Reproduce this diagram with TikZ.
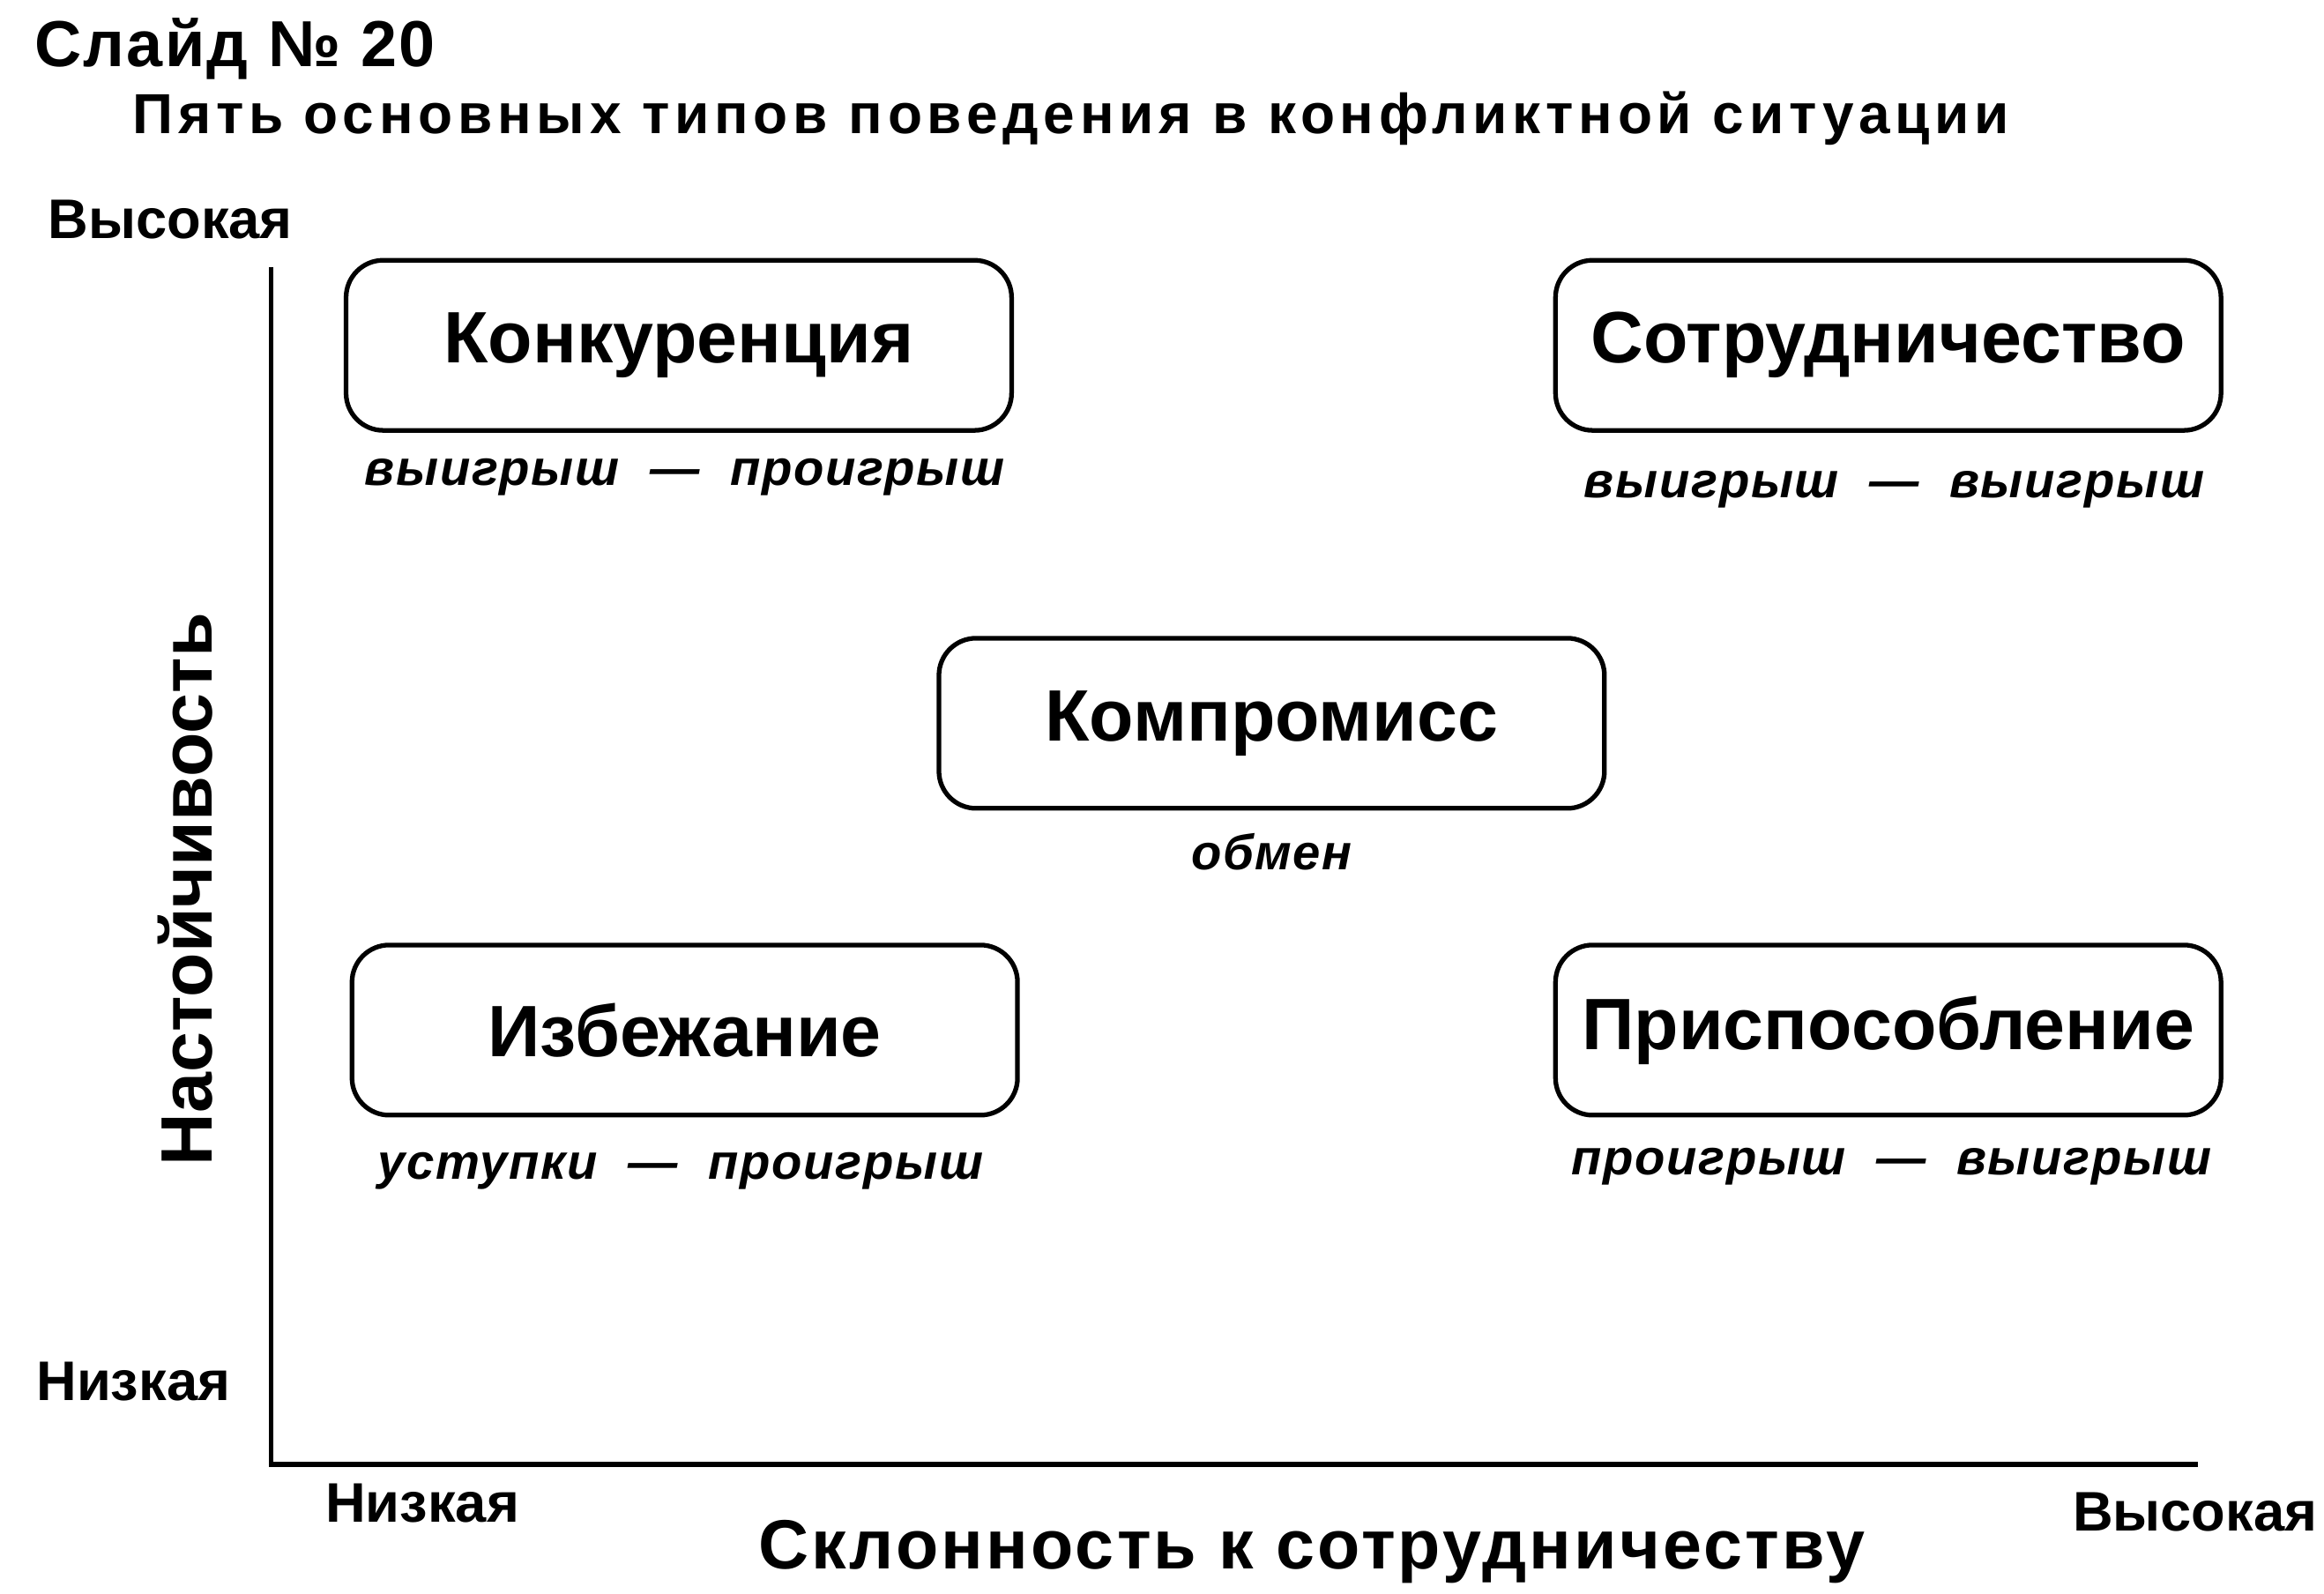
\documentclass[tikz,border=0pt]{standalone}
\usepackage{fontspec}
\setmainfont{Liberation Sans}
\newfontfamily\widefont[LetterSpace=9]{Liberation Sans}
\newfontfamily\midfont[LetterSpace=4]{Liberation Sans}
\newfontfamily\slightfont[LetterSpace=3]{Liberation Sans}
\usetikzlibrary{positioning}
\begin{document}
\begin{tikzpicture}[x=0.01681cm,y=-0.01681cm,
  typebox/.style={draw, line width=1.5pt, rounded corners=12pt, minimum width=7.55cm,
    minimum height=1.93cm, font=\fontsize{23.5}{26}\selectfont\bfseries},
  outcome/.style={font=\slightfont\fontsize{16}{18}\selectfont\bfseries\itshape},
  level/.style={font=\fontsize{18}{20}\selectfont\bfseries},
  axis/.style={line width=1.5pt}]
\useasboundingbox (0,0) rectangle (1568,1075);
% headings
\node[anchor=west, font=\slightfont\fontsize{21}{24}\selectfont\bfseries] (slide) at (16,33) {Слайд № 20};
\node[anchor=west, font=\widefont\fontsize{18.2}{21}\selectfont\bfseries] (title) at (82,80)
  {Пять основных типов поведения в конфликтной ситуации};
% axes
\coordinate (top) at (183,180);
\coordinate (origin) at (183,988);
\coordinate (right) at (1483,988);
\draw[axis] (top) -- (origin) -- (right);
\node[level] (hiy) at (115,148) {Высокая};
\node[level] (loy) at (90,932) {Низкая};
\node[level] (lox) at (285,1014) {Низкая};
\node[level] (hix) at (1481,1020) {Высокая};
\node[rotate=90, font=\fontsize{23.5}{26}\selectfont\bfseries] (ylab) at (125,600) {Настойчивость};
\node[font=\midfont\fontsize{22.5}{26}\selectfont\bfseries] (xlab) at (885,1047) {Склонность к сотрудничеству};
% five types
\node[typebox] (comp) at (458,233) {Конкуренция};
\node[typebox] (coop) at (1274,233) {Сотрудничество};
\node[typebox] (mid) at (858,488) {Компромисс};
\node[typebox] (avoid) at (462,695) {Избежание};
\node[typebox] (acc) at (1274,695) {Приспособление};
\node[outcome] (o1) at (462,322) {выигрыш \ — \ проигрыш};
\node[outcome] (o2) at (1278,330) {выигрыш \ — \ выигрыш};
\node[outcome] (o3) at (858,575) {обмен};
\node[outcome] (o4) at (459,790) {уступки \ — \ проигрыш};
\node[outcome] (o5) at (1276,787) {проигрыш \ — \ выигрыш};
\end{tikzpicture}
\end{document}
